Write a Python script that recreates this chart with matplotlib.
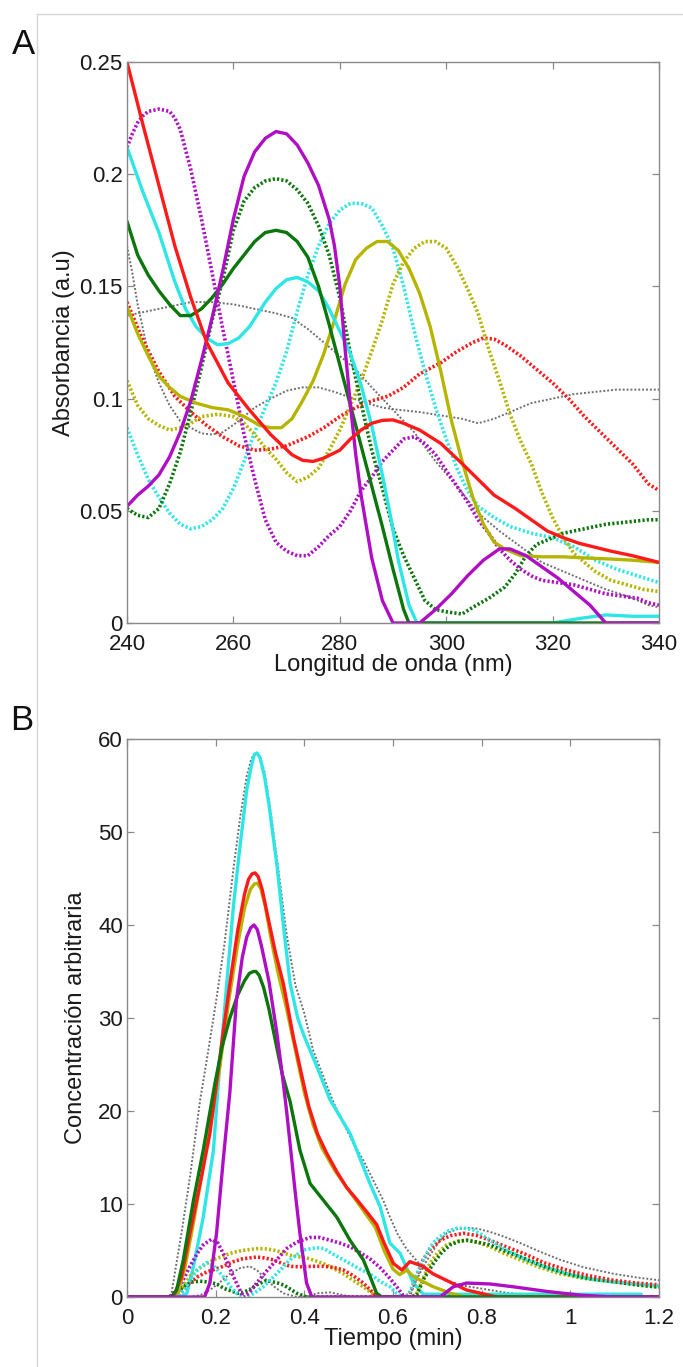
import numpy as np
import matplotlib
matplotlib.use("Agg")
import matplotlib.pyplot as plt
from matplotlib.lines import Line2D
from matplotlib.ticker import FuncFormatter, MultipleLocator

plt.rcParams['font.family'] = ['Liberation Sans', 'DejaVu Sans']

# ---- panel A: spectra (wavelength nm, absorbance) ----
red_s_x = [240, 243, 246, 249, 252, 255, 259, 263, 267, 271, 273, 275, 277, 280, 282, 284, 286, 288, 290, 292, 295, 299, 303, 306, 309, 313, 316, 319, 322, 325, 331, 335, 340]
red_s_y = [0.250, 0.222, 0.195, 0.168, 0.145, 0.125, 0.107, 0.095, 0.084, 0.075, 0.0725, 0.072, 0.0735, 0.077, 0.082, 0.086, 0.089, 0.0903, 0.0905, 0.089, 0.086, 0.080, 0.071, 0.064, 0.057, 0.051, 0.046, 0.041, 0.038, 0.0355, 0.032, 0.030, 0.027]

red_d_x = [240, 243, 246, 249, 252, 255, 258, 261, 264, 267, 270, 274, 277, 280, 283, 286, 289, 292, 295, 299, 302, 305, 307, 309, 311, 314, 317, 320, 323, 326, 329, 332, 335, 338, 340]
red_d_y = [0.143, 0.126, 0.112, 0.101, 0.094, 0.088, 0.083, 0.079, 0.077, 0.0775, 0.079, 0.083, 0.087, 0.092, 0.096, 0.099, 0.101, 0.105, 0.111, 0.116, 0.121, 0.125, 0.127, 0.1265, 0.124, 0.119, 0.113, 0.107, 0.100, 0.092, 0.085, 0.078, 0.071, 0.062, 0.059]

cyan_s_x = [240, 243, 246, 249, 251, 253, 255, 257, 259, 261, 263, 266, 268, 270, 272, 274, 276, 278, 280, 282, 284, 286, 288, 289.5, 291, 293, 294.5, 320, 325, 330, 335, 340]
cyan_s_y = [0.212, 0.192, 0.174, 0.152, 0.140, 0.132, 0.127, 0.124, 0.1245, 0.127, 0.132, 0.143, 0.149, 0.153, 0.154, 0.152, 0.148, 0.140, 0.130, 0.120, 0.106, 0.088, 0.066, 0.048, 0.028, 0.008, 0.0, 0.0, 0.002, 0.0036, 0.003, 0.003]

cyan_d_x = [240, 242, 244, 246, 248, 250, 252, 254, 256, 258, 260, 262, 264, 266, 268, 270, 272, 274, 276, 278, 280, 282, 284, 286, 288, 290, 292, 294, 296, 298, 300, 302, 304, 306, 309, 312, 316, 320, 324, 328, 332, 336, 340]
cyan_d_y = [0.087, 0.075, 0.064, 0.056, 0.049, 0.044, 0.042, 0.043, 0.046, 0.051, 0.060, 0.072, 0.085, 0.096, 0.107, 0.121, 0.139, 0.155, 0.168, 0.178, 0.184, 0.187, 0.187, 0.185, 0.177, 0.167, 0.150, 0.130, 0.112, 0.096, 0.082, 0.069, 0.059, 0.052, 0.047, 0.043, 0.040, 0.038, 0.034, 0.028, 0.024, 0.021, 0.018]

green_s_x = [240, 242, 244, 246, 248, 250, 252, 254, 256, 258, 260, 262, 264, 266, 268, 270, 272, 274, 276, 278, 280, 282, 284, 286, 288, 290, 292, 293, 340]
green_s_y = [0.179, 0.164, 0.155, 0.148, 0.142, 0.137, 0.137, 0.140, 0.145, 0.151, 0.158, 0.164, 0.170, 0.174, 0.175, 0.174, 0.170, 0.163, 0.150, 0.133, 0.115, 0.097, 0.079, 0.061, 0.043, 0.024, 0.006, 0.0, 0.0]

green_d_x = [240, 242, 244, 246, 248, 250, 252, 254, 256, 258, 260, 262, 264, 266, 268, 270, 272, 274, 276, 278, 280, 282, 284, 286, 288, 290, 292, 294, 296, 298, 300, 303, 305, 308, 311, 313, 315, 317, 319, 322, 326, 330, 334, 338, 340]
green_d_y = [0.051, 0.048, 0.047, 0.051, 0.062, 0.076, 0.094, 0.114, 0.135, 0.153, 0.175, 0.188, 0.194, 0.197, 0.198, 0.197, 0.193, 0.187, 0.177, 0.164, 0.145, 0.120, 0.098, 0.077, 0.060, 0.042, 0.030, 0.020, 0.010, 0.006, 0.005, 0.004, 0.007, 0.011, 0.016, 0.022, 0.030, 0.035, 0.037, 0.040, 0.042, 0.044, 0.045, 0.046, 0.046]

mag_s_x = [240, 242, 244, 246, 248, 250, 252, 254, 256, 258, 260, 262, 264, 266, 268, 270, 272, 274, 276, 278, 279, 280, 281, 282, 283, 284, 286, 288, 290, 295, 298, 301, 304, 307, 310, 312, 315, 318, 321, 324, 327, 330, 340]
mag_s_y = [0.052, 0.057, 0.061, 0.066, 0.074, 0.085, 0.099, 0.117, 0.136, 0.157, 0.180, 0.199, 0.210, 0.216, 0.219, 0.218, 0.213, 0.205, 0.195, 0.180, 0.168, 0.150, 0.122, 0.097, 0.075, 0.057, 0.029, 0.010, 0.0, 0.0, 0.006, 0.013, 0.021, 0.028, 0.033, 0.033, 0.030, 0.025, 0.020, 0.014, 0.008, 0.0, 0.0]

mag_d_x = [240, 241, 242, 243, 244, 246, 248, 249, 250, 252, 254, 256, 258, 260, 262, 264, 266, 268, 270, 272, 274, 276, 278, 280, 282, 284, 286, 288, 290, 292, 294, 296, 298, 300, 302, 304, 306, 308, 310, 312, 314, 316, 318, 321, 324, 327, 330, 333, 336, 338, 340]
mag_d_y = [0.212, 0.218, 0.223, 0.226, 0.228, 0.229, 0.228, 0.225, 0.220, 0.202, 0.180, 0.156, 0.131, 0.108, 0.084, 0.064, 0.046, 0.036, 0.032, 0.030, 0.030, 0.034, 0.039, 0.043, 0.050, 0.059, 0.065, 0.072, 0.077, 0.082, 0.083, 0.080, 0.075, 0.068, 0.061, 0.054, 0.046, 0.040, 0.033, 0.028, 0.024, 0.021, 0.019, 0.018, 0.017, 0.015, 0.013, 0.012, 0.011, 0.009, 0.008]

olive_s_x = [240, 242, 244, 246, 248, 250, 253, 256, 259, 262, 265, 267, 269, 271, 273, 275, 277, 279, 281, 283, 285, 287, 289, 291, 293, 295, 297, 299, 301, 303, 305, 307, 309, 311, 314, 318, 322, 326, 331, 335, 340]
olive_s_y = [0.141, 0.129, 0.119, 0.110, 0.105, 0.101, 0.098, 0.096, 0.095, 0.092, 0.088, 0.087, 0.087, 0.091, 0.099, 0.108, 0.120, 0.135, 0.151, 0.162, 0.167, 0.170, 0.170, 0.166, 0.158, 0.147, 0.132, 0.112, 0.090, 0.072, 0.056, 0.044, 0.036, 0.033, 0.030, 0.0295, 0.0295, 0.029, 0.0285, 0.028, 0.027]

olive_d_x = [240, 242, 244, 246, 248, 250, 252, 254, 257, 260, 262, 264, 266, 268, 270, 272, 274, 276, 278, 280, 282, 284, 286, 288, 290, 292, 294, 296, 298, 300, 302, 304, 306, 308, 310, 312, 314, 316, 318, 320, 322, 324, 326, 328, 331, 334, 337, 340]
olive_d_y = [0.108, 0.097, 0.091, 0.088, 0.086, 0.087, 0.089, 0.092, 0.093, 0.092, 0.089, 0.084, 0.078, 0.073, 0.067, 0.063, 0.065, 0.069, 0.077, 0.086, 0.097, 0.108, 0.121, 0.135, 0.151, 0.161, 0.167, 0.170, 0.170, 0.167, 0.159, 0.149, 0.138, 0.122, 0.108, 0.093, 0.081, 0.071, 0.058, 0.047, 0.038, 0.031, 0.027, 0.023, 0.019, 0.017, 0.015, 0.014]

grey1_x = [240, 244, 248, 252, 256, 260, 264, 268, 271, 274, 277, 280, 283, 286, 288, 290, 294, 298, 302, 306, 310, 314, 318, 322, 326, 330, 334, 338, 340]
grey1_y = [0.137, 0.139, 0.141, 0.143, 0.143, 0.142, 0.140, 0.138, 0.136, 0.131, 0.125, 0.119, 0.113, 0.105, 0.100, 0.095, 0.085, 0.072, 0.061, 0.049, 0.041, 0.034, 0.027, 0.023, 0.019, 0.015, 0.012, 0.008, 0.007]

grey2_x = [240, 241, 242, 244, 246, 248, 250, 252, 254, 256, 258, 261, 264, 267, 270, 273, 276, 279, 282, 285, 288, 291, 295, 299, 303, 306, 309, 312, 316, 320, 324, 328, 332, 336, 340]
grey2_y = [0.168, 0.156, 0.142, 0.120, 0.107, 0.097, 0.090, 0.087, 0.0845, 0.084, 0.085, 0.090, 0.096, 0.100, 0.1035, 0.105, 0.105, 0.103, 0.1005, 0.098, 0.096, 0.095, 0.094, 0.0925, 0.091, 0.089, 0.091, 0.094, 0.098, 0.100, 0.102, 0.103, 0.104, 0.104, 0.104]

# ---- panel B: concentration profiles (time min) ----
b_grey_x = [0, 0.09, 0.1, 0.108, 0.123, 0.142, 0.165, 0.18, 0.2, 0.22, 0.24, 0.255, 0.27, 0.28, 0.287, 0.293, 0.3, 0.31, 0.32, 0.34, 0.36, 0.38, 0.40, 0.42, 0.443, 0.465, 0.488, 0.51, 0.533, 0.555, 0.578, 0.593, 0.61, 0.63, 0.646, 0.67, 0.7, 0.72, 0.76, 0.8, 0.85, 0.9, 0.95, 1.2]
b_grey_y = [0, 0, 0.3, 2.6, 6.9, 12.9, 21.2, 25.5, 31.5, 38, 46, 51.5, 56, 57.8, 58.4, 58.5, 58.1, 56.5, 53.5, 46.5, 39, 33.5, 30.5, 26.5, 23.7, 21, 18.7, 16.6, 14.7, 12.6, 10.4, 8.6, 6.8, 5.2, 4.3, 3.0, 2.2, 1.8, 1.2, 0.9, 0.5, 0.2, 0, 0]

b_cyan_s_x = [0, 0.12, 0.135, 0.15, 0.172, 0.195, 0.206, 0.225, 0.24, 0.255, 0.27, 0.28, 0.287, 0.293, 0.3, 0.31, 0.32, 0.338, 0.355, 0.368, 0.385, 0.4, 0.428, 0.458, 0.503, 0.548, 0.571, 0.593, 0.616, 0.646, 0.668, 1.16]
b_cyan_s_y = [0, 0, 0.4, 3.3, 8.6, 15.8, 23, 33.7, 42, 48.5, 54.5, 57, 58.3, 58.5, 58, 56, 53, 46.5, 39, 33.7, 30, 28, 24.8, 21.2, 17.6, 12.2, 9.7, 5.8, 4.7, 1.5, 0.3, 0.3]

b_red_s_x = [0, 0.1, 0.108, 0.123, 0.142, 0.165, 0.187, 0.202, 0.217, 0.232, 0.25, 0.265, 0.274, 0.282, 0.289, 0.296, 0.305, 0.315, 0.335, 0.3527, 0.375, 0.398, 0.41, 0.43, 0.45, 0.473, 0.495, 0.518, 0.54, 0.563, 0.58, 0.601, 0.62, 0.638, 0.668, 0.69, 0.72, 0.766, 0.834, 1.2]
b_red_s_y = [0, 0, 0.4, 2.2, 6.85, 12.2, 17.6, 23, 28.5, 33.7, 39.5, 43.3, 44.9, 45.5, 45.6, 45.2, 43.8, 41.5, 37, 33.7, 28, 23, 20.5, 17.5, 15.5, 13.5, 11.8, 10.5, 9.2, 7.8, 5.8, 3.6, 2.9, 3.8, 3.3, 2.5, 1.8, 0.75, 0, 0]

b_olive_s_x = [0, 0.105, 0.115, 0.13, 0.15, 0.17, 0.19, 0.21, 0.23, 0.25, 0.265, 0.278, 0.287, 0.294, 0.302, 0.312, 0.325, 0.34, 0.36, 0.38, 0.4, 0.42, 0.44, 0.47, 0.5, 0.53, 0.56, 0.58, 0.6, 0.615, 0.631, 0.646, 0.67, 0.691, 0.73, 0.76, 1.2]
b_olive_s_y = [0, 0, 0.5, 3, 8, 13.5, 19, 25, 32, 38, 41.8, 43.8, 44.4, 44.5, 43.9, 42, 38.5, 35, 31, 26.5, 22, 18.5, 16, 13.5, 11.5, 9.5, 7.5, 5, 3, 2.4, 2.9, 2.2, 1.6, 1.1, 0.4, 0, 0]

b_green_s_x = [0, 0.1, 0.112, 0.127, 0.15, 0.172, 0.1985, 0.215, 0.232, 0.25, 0.265, 0.276, 0.285, 0.291, 0.298, 0.308, 0.32, 0.335, 0.35, 0.368, 0.39, 0.413, 0.443, 0.473, 0.503, 0.533, 0.55, 0.563, 0.575, 1.2]
b_green_s_y = [0, 0, 0.75, 4, 10.4, 15.8, 23, 27, 30, 32.5, 34, 34.8, 35, 35, 34.6, 33.3, 31, 27.5, 24, 21, 15.8, 12.2, 10.4, 8.6, 6.1, 4, 2, 0.4, 0, 0]

b_mag_s_x = [0, 0.175, 0.187, 0.202, 0.217, 0.232, 0.247, 0.26, 0.27, 0.279, 0.2865, 0.294, 0.303, 0.32, 0.3377, 0.35, 0.36, 0.37, 0.38, 0.39, 0.405, 0.417, 0.706, 0.736, 0.766, 0.819, 0.871, 0.947, 1.022, 1.097, 1.2]
b_mag_s_y = [0, 0, 1.5, 6.85, 14.7, 22, 32, 36.5, 38.7, 39.7, 40, 39.5, 37.8, 34, 28.5, 24, 20, 15.5, 11, 6.85, 1.5, 0, 0, 1.1, 1.5, 1.4, 1.1, 0.6, 0.2, 0, 0]

b_mag_d_x = [0, 0.097, 0.12, 0.142, 0.16, 0.172, 0.19, 0.205, 0.217, 0.23, 0.24, 0.262, 0.275, 0.2926, 0.315, 0.3377, 0.36, 0.383, 0.413, 0.435, 0.458, 0.48, 0.503, 0.525, 0.548, 0.57, 0.593, 0.61, 0.625, 1.2]
b_mag_d_y = [0, 0, 1.2, 3.3, 4.8, 5.6, 6.2, 5.8, 4.7, 3.3, 2.2, 0, 0.4, 1.5, 2.8, 4, 5.2, 5.9, 6.4, 6.4, 6.1, 5.8, 5.4, 4.8, 4.1, 3.2, 2.0, 1.0, 0, 0]

b_cyan_d_x = [0, 0.112, 0.13, 0.142, 0.16, 0.18, 0.195, 0.217, 0.235, 0.247, 0.265, 0.277, 0.3075, 0.3377, 0.3677, 0.398, 0.428, 0.445, 0.458, 0.48, 0.503, 0.525, 0.548, 0.57, 0.593, 0.608, 0.625, 0.635, 0.646, 0.66, 0.676, 0.69, 0.706, 0.725, 0.744, 0.76, 0.781, 0.8, 0.819, 0.85, 0.9, 0.95, 1.0, 1.05, 1.1, 1.15, 1.2]
b_cyan_d_y = [0, 0, 0.8, 1.8, 3.0, 3.7, 3.4, 2.2, 1.0, 0.4, 0, 0.1, 1.1, 2.5, 4, 5.05, 5.3, 5.2, 4.8, 4.2, 3.6, 3.0, 2.5, 1.7, 1.1, 0.4, 0, 0.2, 1.5, 3.2, 4.7, 5.8, 6.5, 7.1, 7.4, 7.4, 7.2, 6.7, 6.1, 5.2, 4.0, 3.1, 2.4, 1.9, 1.6, 1.4, 1.2]

b_olive_d_x = [0, 0.112, 0.125, 0.142, 0.16, 0.18, 0.2, 0.217, 0.24, 0.26, 0.2926, 0.31, 0.33, 0.35, 0.3677, 0.39, 0.405, 0.425, 0.443, 0.465, 0.488, 0.51, 0.533, 0.55, 0.563, 0.64, 0.653, 0.668, 0.683, 0.7, 0.721, 0.745, 0.766, 0.79, 0.819, 0.85, 0.887, 0.93, 0.977, 1.03, 1.097, 1.15, 1.2]
b_olive_d_y = [0, 0, 1, 2.2, 3.0, 3.6, 4.1, 4.4, 4.8, 5.0, 5.2, 5.2, 5.05, 4.8, 4.5, 4.3, 4.2, 3.9, 3.6, 3.1, 2.5, 1.8, 1.1, 0.5, 0, 0, 0.3, 2, 3.6, 4.7, 5.6, 6.0, 6.1, 5.9, 5.4, 4.7, 4, 3.2, 2.5, 2.0, 1.65, 1.35, 1.1]

b_red_d_x = [0, 0.112, 0.125, 0.142, 0.16, 0.18, 0.2, 0.217, 0.24, 0.26, 0.2926, 0.31, 0.33, 0.35, 0.3677, 0.39, 0.42, 0.443, 0.465, 0.488, 0.51, 0.533, 0.55, 0.563, 0.625, 0.638, 0.653, 0.668, 0.685, 0.706, 0.73, 0.759, 0.79, 0.819, 0.855, 0.894, 0.94, 0.992, 1.04, 1.097, 1.15, 1.2]
b_red_d_y = [0, 0, 0.6, 1.5, 2.2, 2.7, 3.0, 3.3, 3.8, 4.1, 4.3, 4.2, 4.0, 3.6, 3.3, 3.25, 3.3, 3.3, 3.2, 2.9, 2.3, 1.5, 0.7, 0, 0, 0.3, 2.2, 4, 5.2, 6.1, 6.6, 6.85, 6.6, 6.1, 5.4, 4.7, 3.7, 2.9, 2.3, 1.8, 1.5, 1.3]

b_green_d_x = [0, 0.097, 0.11, 0.127, 0.145, 0.165, 0.185, 0.202, 0.22, 0.232, 0.25, 0.262, 0.277, 0.2926, 0.31, 0.3225, 0.34, 0.3527, 0.37, 0.383, 0.405, 0.64, 0.653, 0.67, 0.691, 0.71, 0.729, 0.75, 0.766, 0.79, 0.819, 0.855, 0.894, 0.94, 0.992, 1.04, 1.097, 1.15, 1.2]
b_green_d_y = [0, 0, 0.4, 1.1, 1.6, 1.7, 1.6, 1.4, 0.9, 0.7, 0.4, 0.5, 0.8, 1.3, 1.7, 1.7, 1.5, 1.3, 0.8, 0.4, 0, 0, 0.2, 2, 3.6, 4.8, 5.6, 6.0, 6.1, 5.9, 5.6, 4.9, 4.2, 3.3, 2.5, 2.0, 1.65, 1.3, 1.05]

b_grey2_x = [0, 0.142, 0.165, 0.187, 0.21, 0.232, 0.255, 0.277, 0.295, 0.315, 0.335, 0.3527, 0.383, 0.41, 0.428, 0.458, 0.488, 0.51, 0.625, 0.64, 0.66, 0.675, 0.691, 0.705, 0.721, 0.745, 0.766, 0.79, 0.819, 0.85, 0.887, 0.93, 0.977, 1.03, 1.097, 1.15, 1.2]
b_grey2_y = [0, 0, 0.2, 0.75, 1.6, 2.5, 3.1, 3.3, 2.8, 1.8, 1.0, 0.4, 0, 0.1, 0.4, 0.5, 0.2, 0, 0, 0.5, 2.5, 3.8, 5.05, 6.0, 6.85, 7.3, 7.45, 7.35, 7.0, 6.5, 5.8, 4.9, 4.0, 3.2, 2.5, 2.1, 1.8]

RED = '#ff1a1a'
CYAN = '#2ee6e6'
GREEN = '#0b760b'
MAG = '#b00ec4'
OLIVE = '#b5b500'
GREY = '#6f6f6f'
AXC = '#8a8a8a'

W, H = 683, 1367
fig = plt.figure(figsize=(W / 100, H / 100), dpi=100)

# thin page frame
fig.add_artist(Line2D([37 / W, 1], [1 - 14 / H, 1 - 14 / H], color='#d6d6d6', lw=1))
fig.add_artist(Line2D([37 / W, 37 / W], [0, 1 - 14 / H], color='#d6d6d6', lw=1))

axA = fig.add_axes([127 / W, 1 - 623 / H, 532 / W, 561 / H])
axB = fig.add_axes([127 / W, 1 - 1297 / H, 532 / W, 558 / H])

SW = 2.4   # solid width
DW = 2.6   # coloured dotted width
GW = 1.4   # grey dotted width
dot = (0, (0.6, 0.6))
gdot = (0, (1.0, 1.0))

def draw(ax, x, y, c, kind):
    if kind == 's':
        ax.plot(x, y, color=c, lw=SW, solid_capstyle='round', solid_joinstyle='round')
    elif kind == 'd':
        ax.plot(x, y, color=c, lw=DW, linestyle=dot)
    else:
        ax.plot(x, y, color=c, lw=GW, linestyle=gdot)

draw(axA, grey1_x, grey1_y, GREY, 'g')
draw(axA, grey2_x, grey2_y, GREY, 'g')
draw(axA, red_d_x, red_d_y, RED, 'd')
draw(axA, cyan_d_x, cyan_d_y, CYAN, 'd')
draw(axA, olive_d_x, olive_d_y, OLIVE, 'd')
draw(axA, green_d_x, green_d_y, GREEN, 'd')
draw(axA, mag_d_x, mag_d_y, MAG, 'd')
draw(axA, olive_s_x, olive_s_y, OLIVE, 's')
draw(axA, cyan_s_x, cyan_s_y, CYAN, 's')
draw(axA, green_s_x, green_s_y, GREEN, 's')
draw(axA, mag_s_x, mag_s_y, MAG, 's')
draw(axA, red_s_x, red_s_y, RED, 's')

draw(axB, b_grey_x, b_grey_y, GREY, 'g')
draw(axB, b_grey2_x, b_grey2_y, GREY, 'g')
draw(axB, b_cyan_s_x, b_cyan_s_y, CYAN, 's')
draw(axB, b_olive_d_x, b_olive_d_y, OLIVE, 'd')
draw(axB, b_green_d_x, b_green_d_y, GREEN, 'd')
draw(axB, b_red_d_x, b_red_d_y, RED, 'd')
draw(axB, b_cyan_d_x, b_cyan_d_y, CYAN, 'd')
draw(axB, b_mag_d_x, b_mag_d_y, MAG, 'd')
draw(axB, b_olive_s_x, b_olive_s_y, OLIVE, 's')
draw(axB, b_red_s_x, b_red_s_y, RED, 's')
draw(axB, b_green_s_x, b_green_s_y, GREEN, 's')
draw(axB, b_mag_s_x, b_mag_s_y, MAG, 's')

fmt = FuncFormatter(lambda v, p: '%g' % round(v, 3))

for ax in (axA, axB):
    for s in ax.spines.values():
        s.set_color(AXC)
        s.set_linewidth(1.0)
    ax.tick_params(direction='in', top=True, right=True, length=5, width=0.9,
                   color=AXC, labelsize=16, labelcolor='#1a1a1a')
    ax.tick_params(axis='x', pad=8)
    ax.tick_params(axis='y', pad=3)
    ax.xaxis.set_major_formatter(fmt)
    ax.yaxis.set_major_formatter(fmt)

axA.set_xlim(240, 340)
axA.set_ylim(0, 0.25)
axA.xaxis.set_major_locator(MultipleLocator(20))
axA.yaxis.set_major_locator(MultipleLocator(0.05))
axA.set_xlabel('Longitud de onda (nm)', fontsize=17, color='#1a1a1a', labelpad=-1)
axA.set_ylabel('Absorbancia (a.u)', fontsize=17, color='#1a1a1a', labelpad=3)

axB.set_xlim(0, 1.2)
axB.set_ylim(0, 60)
axB.xaxis.set_major_locator(MultipleLocator(0.2))
axB.yaxis.set_major_locator(MultipleLocator(10))
axB.set_xlabel('Tiempo (min)', fontsize=17, color='#1a1a1a', labelpad=-1)
axB.set_ylabel('Concentración arbitraria', fontsize=17, color='#1a1a1a', labelpad=8)

fig.text(24 / W, 1 - 45 / H, 'A', fontsize=25, ha='center', va='center', color='#111111')
fig.text(22 / W, 1 - 720 / H, 'B', fontsize=25, ha='center', va='center', color='#111111')

fig.savefig('out.png', dpi=100, facecolor='white')
